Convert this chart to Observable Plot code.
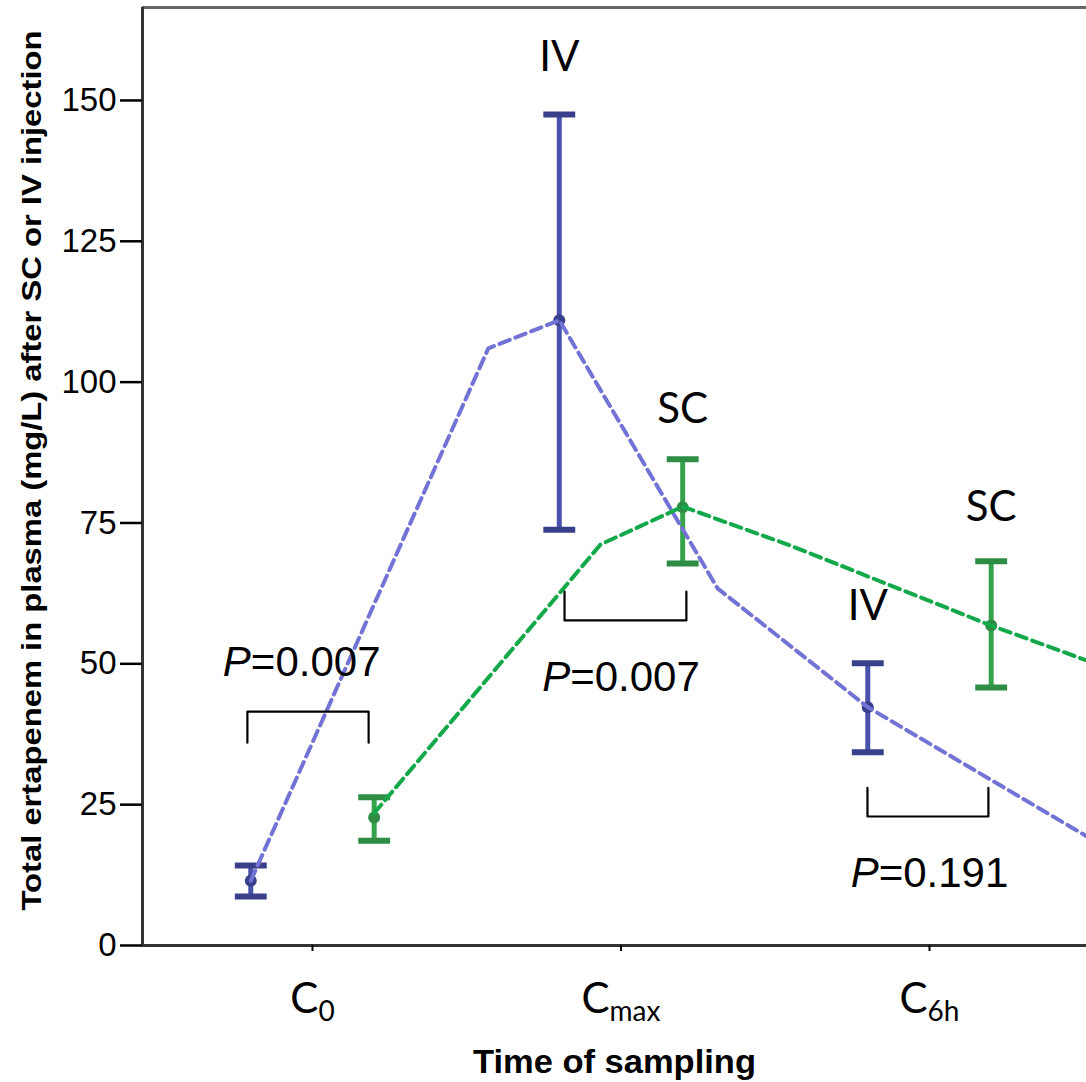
<!DOCTYPE html>
<html><head><meta charset="utf-8">
<script src="https://cdn.jsdelivr.net/npm/d3@7"></script>
<script src="https://cdn.jsdelivr.net/npm/@observablehq/plot@0.6"></script>
<style>body{margin:0;background:#fff} svg{display:block;background:#fff}</style>
</head><body><div id="chart"></div>
<script>
// ---- data ----
const categories = ["C0", "Cmax", "C6h"];
const categoryMain = ["C", "C", "C"];
const categorySub = ["0", "max", "6h"];
const groups = ["IV", "SC"];
const groupOffset = [-0.2, 0.2];
const ivMean = [11.5, 111.0, 42.3];
const ivLow = [8.7, 73.8, 34.3];
const ivHigh = [14.2, 147.5, 50.1];
const scMean = [22.7, 77.8, 56.8];
const scLow = [18.6, 67.8, 45.8];
const scHigh = [26.3, 86.3, 68.2];
// dashed trend lines (position on the category axis, value)
const ivTrendPos = [-0.2, 0.570, 0.8, 1.313, 1.8, 2.509];
const ivTrendVal = [11.5, 106.0, 111.0, 63.4, 42.3, 19.4];
const scTrendPos = [0.2, 0.934, 1.2, 1.549, 2.2, 2.509];
const scTrendVal = [23.5, 71.2, 77.9, 71.0, 56.8, 50.6];
// group labels
const groupLabelText = ["IV", "SC", "IV", "SC"];
const groupLabelPos = [0.8, 1.2, 1.8, 2.2];
const groupLabelVal = [155.3, 92.8, 57.7, 75.3];
// significance brackets
const bracketLeft = [-0.211, 0.817, 1.799];
const bracketRight = [0.182, 1.212, 2.191];
const bracketBar = [41.5, 57.7, 22.9];
const bracketEnd = [36.0, 62.8, 28.0];
const pText = ["P=0.007", "P=0.007", "P=0.191"];
const pPos = [-0.035, 1.0, 2.0];
const pVal = [47.8, 45.1, 10.3];
const yTicks = [0, 25, 50, 75, 100, 125, 150];
const yTitle = "Total ertapenem in plasma (mg/L) after SC or IV injection";
const xTitle = "Time of sampling";
const xDomain = [-0.551, 2.509];
const yDomain = [0, 166.5];

// ---- build tables ----
const means = [ivMean, scMean], lows = [ivLow, scLow], highs = [ivHigh, scHigh];
const rows = [];
groups.forEach((g, gi) => categories.forEach((c, ci) => rows.push({
  group: g, x: ci + groupOffset[gi], mean: means[gi][ci], low: lows[gi][ci], high: highs[gi][ci]
})));
const ivTrend = ivTrendPos.map((x, i) => ({x, y: ivTrendVal[i]}));
const scTrend = scTrendPos.map((x, i) => ({x, y: scTrendVal[i]}));
const labels = groupLabelText.map((t, i) => ({t, x: groupLabelPos[i], y: groupLabelVal[i]}));
const brackets = [];
bracketLeft.forEach((l, i) => {
  brackets.push({id: i, x: l, y: bracketEnd[i]}, {id: i, x: l, y: bracketBar[i]},
                {id: i, x: bracketRight[i], y: bracketBar[i]}, {id: i, x: bracketRight[i], y: bracketEnd[i]});
});
const pRows = pText.map((t, i) => ({t, x: pPos[i], y: pVal[i]}));
const caps = rows.flatMap(r => [{group: r.group, x: r.x, y: r.low}, {group: r.group, x: r.x, y: r.high}]);

const barColor = {IV: "#4852ad", SC: "#35a34c"};
const capColor = {IV: "#3a3f8c", SC: "#2e8c45"};
const capSymbol = {draw(ctx, size) { const w = Math.sqrt(size); ctx.moveTo(-w, 0); ctx.lineTo(w, 0); }};
const sans = "Liberation Sans, Arial, sans-serif";

const chart = Plot.plot({
  width: 1086, height: 1082,
  marginLeft: 142, marginRight: 0, marginTop: 7, marginBottom: 137,
  x: {domain: xDomain},
  y: {domain: yDomain},
  style: {background: "#fff", color: "#000"},
  marks: [
    Plot.ruleY([yDomain[1]], {stroke: "#666", strokeWidth: 3}),
    Plot.ruleY([0], {stroke: "#333", strokeWidth: 3}),
    Plot.ruleX([xDomain[0]], {stroke: "#333", strokeWidth: 3}),
    Plot.axisY({ticks: yTicks, tickSize: 22, tickPadding: 4, fontSize: 33, fontFamily: sans, label: null, strokeWidth: 2.5}),
    Plot.axisX({ticks: [0, 1, 2], tickFormat: i => categories[i], tickSize: 6, tickPadding: 32, fontSize: 42, fontFamily: "Lato, sans-serif", label: null, strokeWidth: 2}),
    Plot.ruleX(rows, {x: "x", y1: "low", y2: "high", stroke: d => barColor[d.group], strokeWidth: 5}),
    Plot.dot(caps, {x: "x", y: "y", symbol: capSymbol, r: 9, stroke: d => capColor[d.group], strokeWidth: 6}),
    Plot.dot(rows, {x: "x", y: "mean", r: 6, fill: d => capColor[d.group], stroke: "none"}),
    Plot.line(ivTrend, {x: "x", y: "y", stroke: "#7373d6", strokeWidth: 4, strokeDasharray: "11,6", clip: true}),
    Plot.line(scTrend, {x: "x", y: "y", stroke: "#13a84a", strokeWidth: 4, strokeDasharray: "11,6", clip: true}),
    Plot.line(brackets, {x: "x", y: "y", z: "id", stroke: "#000", strokeWidth: 2.2, curve: "linear"}),
    Plot.text(labels, {x: "x", y: "y", text: "t", lineAnchor: "bottom", fontSize: 42, fontFamily: "Lato, sans-serif", fill: "#000"}),
    Plot.text(pRows, {x: "x", y: "y", text: "t", lineAnchor: "bottom", fontSize: 42, fontFamily: sans, fill: "#000"}),
    Plot.text([yTitle], {frameAnchor: "left", textAnchor: "middle", dx: -110, dy: -6, rotate: -90, fontSize: 28, fontWeight: "bold", fontFamily: sans, fill: "#000"}),
    Plot.text([xTitle], {frameAnchor: "bottom", textAnchor: "middle", dy: 127, lineAnchor: "bottom", fontSize: 34, fontWeight: "bold", fontFamily: sans, fill: "#000"})
  ]
});
document.getElementById("chart").appendChild(chart);

const svg = d3.select(chart);
svg.selectAll("text").each(function () {
  const s = this.textContent;
  const t = d3.select(this);
  const ci = categories.indexOf(s);
  if (ci >= 0) {
    // subscripts on category labels
    t.text(null);
    t.append("tspan").text(categoryMain[ci]);
    t.append("tspan").attr("font-size", 28).attr("dy", 8).text(categorySub[ci]);
  } else if (pText.includes(s)) {
    // italic P
    t.text(null);
    t.append("tspan").attr("font-style", "italic").text(s.slice(0, 1));
    t.append("tspan").text(s.slice(1));
  } else if (s === yTitle) {
    t.attr("textLength", 880).attr("lengthAdjust", "spacingAndGlyphs");
  } else if (s === xTitle) {
    t.attr("textLength", 283).attr("lengthAdjust", "spacingAndGlyphs");
  }
});
</script>
</body></html>
